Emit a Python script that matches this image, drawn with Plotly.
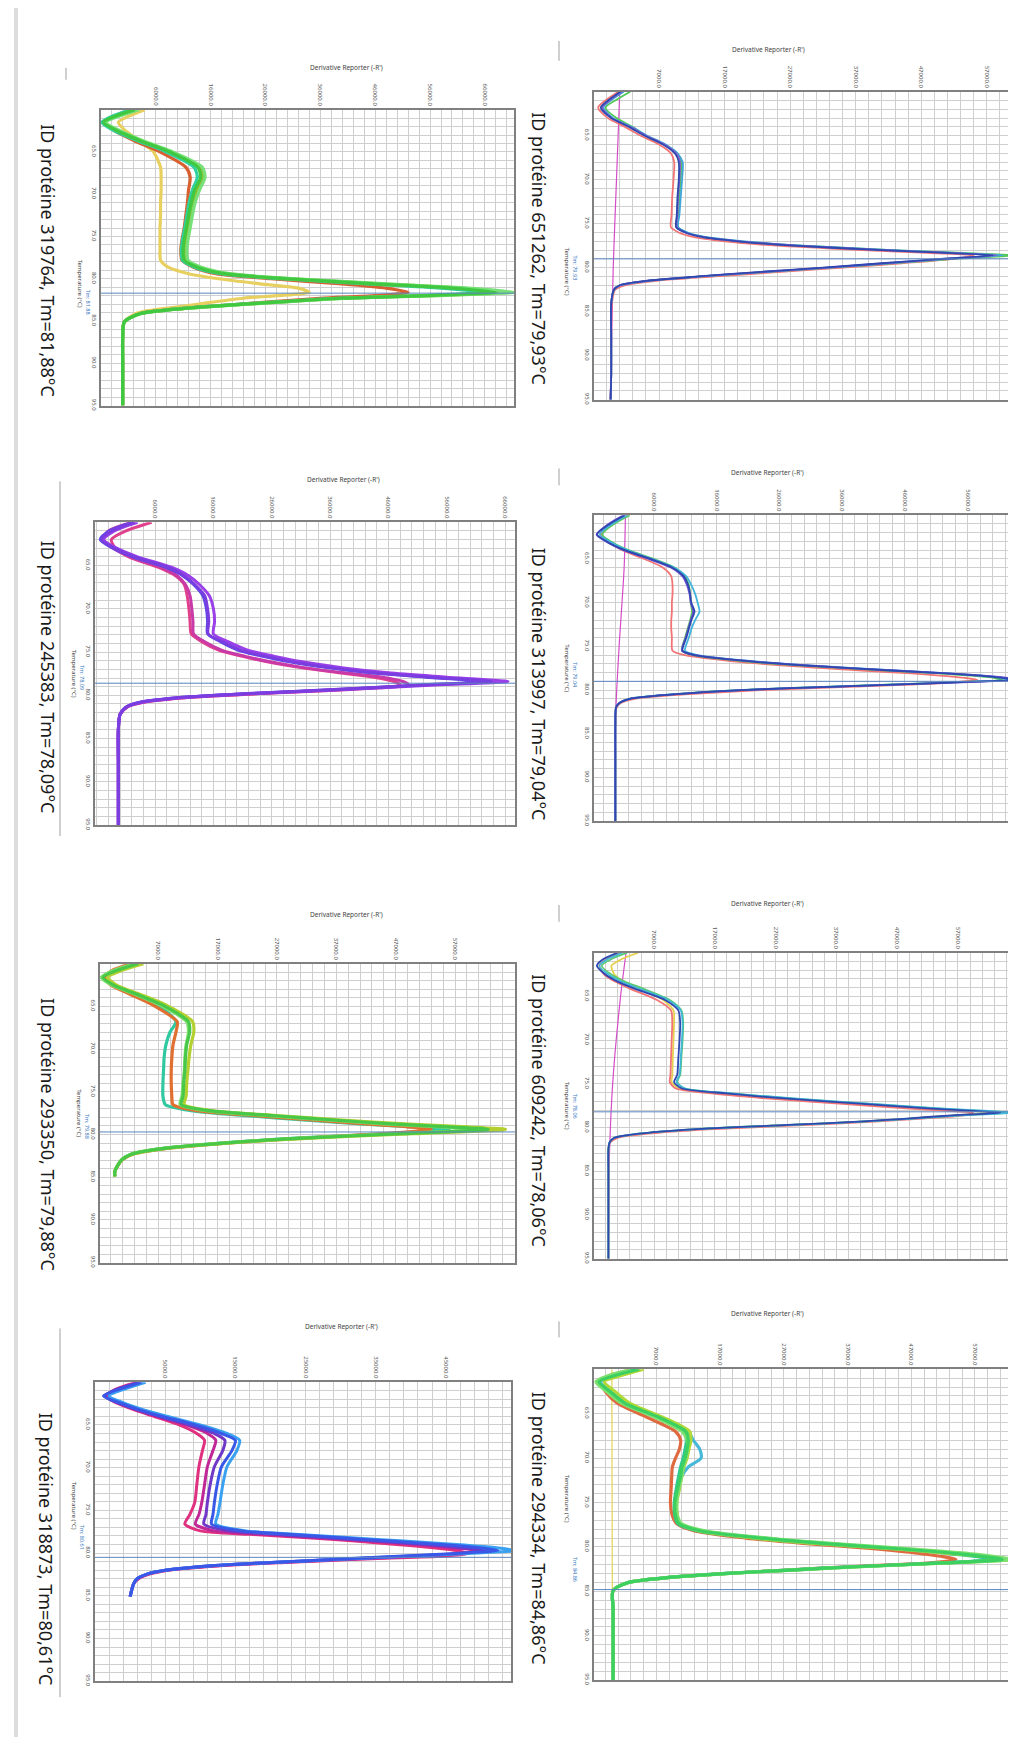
import plotly.graph_objects as go

W, H = 1016, 1737

# ---------------- values ----------------
TITLES = ["ID protéine 651262, Tm=79,93°C", "ID protéine 313997, Tm=79,04°C",
          "ID protéine 609242, Tm=78,06°C", "ID protéine 294334, Tm=84,86°C",
          "ID protéine 319764, Tm=81,88°C", "ID protéine 245383, Tm=78,09°C",
          "ID protéine 293350, Tm=79,88°C", "ID protéine 318873, Tm=80,61°C"]
TM_TEXT = ["Tm: 79.93", "Tm: 79.04", "Tm: 78.06", "Tm: 84.86",
           "Tm: 81.88", "Tm: 78.09", "Tm: 79.88", "Tm: 80.61"]
TM_LINE = [79.0, 79.0, 78.2, 84.8, 81.7, 78.6, 79.7, 80.5]
T_TICKS = [65, 70, 75, 80, 85, 90, 95]
X_TICKS = [[7000, 17000, 27000, 37000, 47000, 57000],
           [6000, 16000, 26000, 36000, 46000, 56000],
           [7000, 17000, 27000, 37000, 47000, 57000],
           [7000, 17000, 27000, 37000, 47000, 57000],
           [6000, 16000, 26000, 36000, 46000, 56000, 66000],
           [6000, 16000, 26000, 36000, 46000, 56000, 66000],
           [7000, 17000, 27000, 37000, 47000, 57000],
           [5000, 15000, 25000, 35000, 45000]]
X_RANGES = [[-2930, 61900], [-3500, 64000], [-2870, 66870], [-2800, 63750],
            [-3950, 71300], [-4300, 67700], [-2800, 67100], [-5000, 54250]]

# panel 1 - 651262
P1_T = [60, 61, 61.8, 63, 64, 65, 66, 67, 68, 70, 72, 74, 75.4, 76, 76.5, 77, 77.5, 78, 78.3, 78.6,
        79, 79.5, 80, 80.5, 81, 81.5, 82, 82.5, 84, 88, 92, 95]
P1_BLUE = [1100, -800, -1900, -300, 2400, 4800, 7600, 9400, 10000, 10000, 9800, 9700, 9600, 11000, 13500,
           19000, 27500, 41000, 50000, 58000, 50000, 41000, 32000, 22000, 13000, 5000, 1000, 100, -300, -300, -300, -400]
P1_CYAN = [1600, -400, -1500, 0, 2800, 5200, 8000, 9800, 10600, 10500, 10300, 10100, 9900, 11400, 14000,
           20000, 29000, 42500, 51500, 59500, 51000, 42000, 33000, 23000, 13500, 5300, 1100, 100, -300, -300, -300, -400]
P1_GREEN = [2600, 300, -1200, 500, 3000, 5000, 7800, 9800, 10400, 10300, 10100, 10000, 9900, 11200, 13800,
            19500, 28500, 42500, 52500, 61500, 52000, 42500, 33000, 23000, 13500, 5200, 1000, 100, -300, -300, -300, -400]
P1_RED = [800, -1200, -2300, -800, 1800, 4200, 7000, 8800, 9300, 9200, 9000, 8900, 8800, 10000, 12200,
          17000, 25000, 38000, 47000, 55000, 52000, 44000, 35000, 25000, 15500, 6500, 1800, 300, -200, -300, -300, -400]
P1_PURPLE = [1300, -600, -1700, -200, 2600, 5000, 7800, 9600, 10200, 10100, 9900, 9800, 9700, 11000, 13600,
             19200, 28000, 41500, 50500, 58500, 50500, 41500, 32500, 22500, 13200, 5100, 1000, 100, -300, -300, -300, -400]
P1_NTC_T = [60, 70, 80, 95]
P1_NTC = [1000, 500, 0, -450]

# panel 2 - 313997
P2_T = [60, 61, 62.2, 63, 64, 65, 66, 67, 68, 69, 70, 71, 72, 73, 74, 75.5, 76, 76.8, 77.5, 78.1, 78.5, 78.8,
        79.2, 79.6, 80, 80.5, 81, 81.5, 82, 84, 88, 95]
P2_BLUE = [1400, -1000, -3000, -1500, 1400, 5500, 9000, 10800, 11500, 11800, 12000, 12500, 12000, 11600, 11200, 10600,
           12500, 22600, 37000, 52400, 60000, 63500, 51000, 35000, 20000, 9000, 2200, 500, 0, -100, -100, -100]
P2_CYAN = [1800, -600, -2600, -1000, 1800, 5800, 9300, 11200, 12000, 12600, 13000, 13300, 12600, 12000, 11600, 11000,
           13000, 23500, 38000, 53000, 60500, 62500, 50500, 34500, 19500, 8800, 2100, 500, 0, -100, -100, -100]
P2_GREEN = [2200, -300, -2200, -800, 2000, 6000, 9400, 11000, 11600, 11800, 11900, 12100, 11800, 11400, 11000, 10500,
            12300, 22000, 36500, 51500, 59000, 61500, 50000, 34000, 19500, 8800, 2100, 500, 0, -100, -100, -100]
P2_RED = [2000, -500, -2400, -1200, 1000, 4500, 7500, 8800, 9000, 9000, 8900, 8900, 8800, 8800, 8900, 9000,
          11000, 20000, 33000, 47000, 54000, 57500, 52000, 38000, 23000, 11000, 3000, 700, 100, -100, -100, -100]
P2_PURPLE = [1200, -1200, -3100, -1600, 1200, 5200, 8800, 10600, 11300, 11700, 11900, 12300, 11900, 11500, 11100, 10500,
             12600, 23000, 37500, 53000, 61000, 64500, 51500, 35500, 20200, 9100, 2200, 500, 0, -100, -100, -100]
P2_NTC_T = [60, 66, 75, 82, 95]
P2_NTC = [1500, 1300, 500, 0, -100]

# panel 3 - 609242
P3_T = [60, 60.8, 61.5, 62.5, 63.3, 64.1, 65.4, 66.6, 68, 70, 72, 74, 74.8, 75.5, 76.1, 76.7, 77.3, 77.8, 78.1, 78.3,
        78.6, 79, 79.3, 79.7, 80.2, 80.7, 81.2, 81.7, 82.5, 85, 90, 95]
P3_BLUE = [1000, -1500, -2400, -1000, 1000, 3800, 8800, 11000, 11300, 11200, 11000, 10800, 10300, 11500, 18900, 29000,
           41400, 52000, 59500, 64000, 56000, 48000, 41400, 29000, 13300, 4500, 400, -300, -500, -500, -500, -500]
P3_CYAN = [1800, -800, -2000, -500, 1600, 4500, 9300, 11400, 11700, 11600, 11400, 11200, 10700, 12000, 19800, 30500,
           43000, 54000, 62000, 66500, 57500, 49000, 42000, 29500, 13500, 4600, 400, -300, -500, -500, -500, -500]
P3_GREEN = [2600, -200, -1600, 0, 2200, 5200, 9600, 11500, 11800, 11700, 11500, 11300, 10800, 12000, 19500, 30000,
            42500, 53500, 61000, 65500, 57000, 48500, 41800, 29200, 13400, 4500, 400, -300, -500, -500, -500, -500]
P3_RED = [1500, -1000, -2000, -1200, 600, 3000, 7500, 9800, 10000, 9900, 9800, 9700, 9600, 10500, 16500, 26000,
          38000, 48500, 55500, 59500, 58000, 50500, 44000, 32500, 16000, 6000, 900, -200, -500, -500, -500, -500]
P3_YELLOW = [4400, 1500, 0, 500, 2000, 4500, 8500, 10200, 10300, 10200, 10100, 10000, 9900, 11000, 17500, 27500,
             40000, 51000, 58500, 63000, 56500, 48500, 41800, 29500, 13800, 4700, 500, -300, -500, -500, -500, -500]
P3_NTC_T = [60, 65, 75, 85, 95]
P3_NTC = [2400, 1500, 200, -400, -500]

# panel 4 - 294334
P4_T = [60, 60.7, 61.4, 62.5, 63.8, 65.4, 67, 68, 69, 70, 71, 72, 73.5, 75, 76.5, 77.4, 78.2, 79, 79.6, 80.2, 80.8,
        81.4, 81.8, 82.2, 82.6, 83, 83.5, 84, 84.9, 87, 91, 95]
P4_GREEN = [4300, 500, -2000, -300, 2000, 7400, 11600, 12000, 11800, 11500, 11000, 10800, 10300, 9900, 10000, 10600,
            14000, 23400, 33000, 45000, 55000, 61300, 52000, 39000, 28000, 17600, 8000, 2600, 200, 200, 200, 200]
P4_LIGHT = [3000, -500, -2500, -800, 1500, 6800, 11000, 11800, 11900, 11600, 11200, 11000, 10500, 10200, 10300, 11000,
            14800, 24500, 34500, 47000, 57000, 63000, 53000, 40000, 28500, 18000, 8200, 2700, 200, 200, 200, 200]
P4_YG = [5000, 1500, -1200, 500, 2800, 8000, 12200, 12400, 12100, 11800, 11300, 11000, 10600, 10200, 10300, 10800,
         13800, 22500, 32000, 44000, 54500, 62500, 52500, 39500, 28200, 17800, 8100, 2600, 200, 200, 200, 200]
P4_TEAL = [3800, 0, -2300, -600, 1700, 7000, 11300, 11700, 11500, 11200, 10800, 10500, 10100, 9800, 9900, 10400,
           13500, 22500, 32000, 44000, 53500, 60000, 51500, 38500, 27500, 17200, 7800, 2500, 200, 200, 200, 200]
P4_RED = [3500, -300, -1800, -1000, 800, 5500, 10000, 10800, 10600, 10000, 9500, 9400, 9300, 9200, 9500, 10200,
          13000, 21000, 30000, 41000, 49000, 54000, 50000, 38000, 27500, 17500, 8000, 2600, 200, 200, 200, 200]
P4_CYAN = [4000, 200, -1800, -200, 2200, 7600, 12000, 12800, 13800, 14000, 12000, 11000, 10500, 10000, 10100, 10700,
           14200, 23800, 33500, 45500, 55500, 61500, 52000, 39000, 28000, 17600, 8000, 2600, 200, 200, 200, 200]
P4_NTC_T = [60, 95]
P4_NTC = [0, 100]

# panel 5 - 319764
P5_T = [60, 60.8, 61.5, 62.5, 63.7, 64.9, 66.8, 68, 69.5, 71, 72.5, 74, 75.4, 76.5, 77.8, 78.6, 79.4, 80, 80.6, 81.1,
        81.6, 82, 82.3, 82.8, 83.3, 83.7, 84.1, 85.1, 87, 90, 95]
P5_GREEN = [2200, -1500, -3500, -1000, 3300, 8200, 13700, 14200, 13100, 12500, 12000, 11600, 11200, 11000, 11200,
            13500, 18500, 30000, 45800, 60000, 68000, 55000, 39800, 27000, 15500, 8000, 3300, 300, 0, 0, 0]
P5_LIGHT = [3000, -800, -3000, -500, 3800, 8800, 14500, 15000, 14000, 13200, 12700, 12300, 11900, 11700, 11900,
            14200, 19500, 31500, 48000, 63000, 71500, 57000, 41000, 27800, 16000, 8200, 3400, 300, 0, 0, 0]
P5_TEAL = [1500, -2000, -3800, -1500, 2800, 7600, 13000, 13600, 12700, 12100, 11700, 11300, 10900, 10700, 10900,
           13000, 17800, 29000, 44500, 58000, 65500, 53500, 38800, 26300, 15000, 7800, 3200, 300, 0, 0, 0]
P5_ORANGE = [1800, -1800, -3200, -1500, 2200, 6500, 11500, 12300, 12000, 11800, 11500, 11200, 10800, 10600, 10800,
             12800, 17000, 27000, 40000, 48000, 52000, 46000, 36000, 25500, 15000, 7800, 3200, 300, 0, 0, 0]
P5_OLIVE = [2600, -1200, -3300, -800, 3500, 8500, 14000, 14600, 13500, 12800, 12300, 11900, 11500, 11300, 11500,
            13800, 19000, 30800, 47000, 61500, 70000, 56000, 40500, 27500, 15800, 8100, 3300, 300, 0, 0, 0]
P5_YELLOW = [4000, 1000, -800, 500, 3000, 5500, 6900, 7000, 7000, 6900, 6900, 6800, 6800, 6800, 6900,
             8200, 12000, 17500, 25000, 32000, 34000, 28000, 22000, 16000, 10500, 5500, 2500, 300, 0, 0, 0]

# panel 6 - 245383
P6_T = [60, 61, 62, 63, 64, 65.2, 66.2, 67.2, 68.5, 70, 71.5, 72.9, 73.8, 74.8, 75.5, 76.1, 76.8, 77.4, 77.9, 78.4,
        78.8, 79.3, 79.8, 80.3, 80.8, 81.3, 82.2, 84, 88, 95]
P6_PURPLE = [2500, -1500, -3200, -1000, 2500, 8200, 11000, 12800, 14500, 15000, 15200, 15100, 17500, 20700, 25000,
             29300, 36000, 43600, 53000, 63600, 52000, 38000, 22000, 9500, 3500, 1200, 0, -300, -300, -300]
P6_VIOLET = [3000, -1000, -2800, -600, 3000, 8800, 11800, 13600, 15300, 16000, 16200, 16000, 18500, 22000, 26500,
             31000, 38000, 46000, 56000, 66500, 54000, 39000, 22500, 9700, 3600, 1200, 0, -300, -300, -300]
P6_BLUEV = [2200, -1800, -3400, -1200, 2200, 7800, 10800, 12600, 14200, 14800, 15000, 15000, 17200, 20300, 24500,
            28800, 35500, 43000, 52500, 62500, 51500, 37500, 21800, 9300, 3400, 1200, 0, -300, -300, -300]
P6_MAGENTA = [2000, -2000, -3000, -1200, 1800, 7000, 9800, 11200, 12000, 12300, 12500, 12600, 14500, 17500, 21500,
              25500, 31500, 38500, 45000, 48500, 49500, 40000, 24000, 10500, 4000, 1300, 0, -300, -300, -300]
P6_PINK = [5400, 1000, -1500, -800, 1500, 6500, 9500, 11000, 11500, 11800, 12000, 12200, 14000, 17000, 21000,
           25000, 31000, 37500, 43500, 47000, 48000, 39000, 23500, 10300, 3900, 1300, 0, -300, -300, -300]

# panel 7 - 293350
P7_T = [60, 60.8, 61.6, 62.5, 63.5, 64.8, 66.8, 68, 69.5, 71, 72.5, 74, 75.5, 76.5, 77.2, 77.8, 78.3, 78.75, 79.1,
        79.4, 79.9, 80.4, 81, 81.7, 82.3, 83, 84.3, 84.9]
P7_GREEN = [3600, 0, -2300, -500, 3100, 7600, 12100, 12300, 11800, 11600, 11500, 11300, 11200, 10900, 15500, 26600,
            36500, 46300, 56000, 62600, 48000, 32300, 18000, 7000, 2500, 800, -300, -300]
P7_YG = [4500, 800, -1500, 0, 3600, 8200, 12800, 13000, 12500, 12200, 12000, 11800, 11700, 11400, 15800, 27500,
         38000, 48500, 59000, 65500, 50000, 33500, 18500, 7200, 2600, 800, -300, -300]
P7_LIGHT = [3000, -500, -2600, -800, 2800, 7200, 11800, 12100, 11700, 11500, 11400, 11200, 11000, 10700, 15000, 25500,
            35500, 45000, 54500, 61000, 47000, 31800, 17800, 6900, 2400, 800, -300, -300]
P7_ORANGE = [2500, -800, -2000, -1000, 2000, 6000, 10200, 10000, 9500, 9300, 9200, 9200, 9300, 9500, 13500, 23500,
             33000, 42000, 49000, 53000, 45000, 32000, 18500, 7500, 2700, 900, -300, -300]
P7_TEAL = [3200, -300, -2200, -600, 2600, 6800, 10000, 9000, 8300, 8000, 7900, 7800, 7800, 8200, 12500, 22000,
           31500, 41000, 50000, 56000, 45500, 31000, 17500, 6800, 2400, 800, -300, -300]

# panel 8 - 318873
P8_T = [60, 60.8, 61.6, 62.4, 63.3, 64.1, 65, 66, 66.8, 68, 69.9, 72, 74.1, 75.5, 76.6, 77.4, 77.8, 78.2, 78.6, 79,
        79.4, 79.7, 80.1, 80.7, 81.1, 81.5, 82, 82.4, 83, 83.6, 85.1]
P8_BLUE = [1600, -1500, -3800, -1500, 1600, 5000, 9300, 13000, 15000, 14500, 13000, 12400, 12000, 11800, 11600,
           15800, 22500, 30000, 37000, 44300, 50000, 52400, 45000, 30000, 20000, 11100, 5000, 2600, 1000, 500, 0]
P8_SKY = [2200, -800, -3000, -1000, 2200, 5800, 10000, 13800, 15600, 15200, 13800, 13200, 12800, 12500, 12200,
          16500, 23500, 31500, 39000, 46500, 52500, 55000, 46500, 30500, 20200, 11200, 5000, 2600, 1000, 500, 0]
P8_PURPLE = [1200, -1800, -3600, -1800, 1200, 4500, 8500, 12000, 13500, 13200, 12000, 11400, 11000, 10800, 10500,
             14000, 20500, 28000, 35000, 42000, 47500, 50500, 46000, 30500, 20200, 11200, 5000, 2600, 1000, 500, 0]
P8_PINK = [1000, -2000, -3500, -2000, 800, 3800, 7000, 9500, 10600, 10300, 9800, 9500, 9200, 8500, 7800,
           10000, 17000, 25300, 32000, 38000, 43500, 46500, 48100, 33000, 22000, 12500, 5500, 3000, 1200, 500, 0]
P8_MAGENTA = [1300, -1700, -3400, -1700, 1200, 4300, 8000, 11000, 12200, 11800, 11000, 10600, 10200, 9800, 9300,
              12000, 19000, 27000, 34500, 41000, 46000, 49500, 46500, 31500, 21000, 11800, 5200, 2800, 1100, 500, 0]

# ---------------- layout of the page (pixels) ----------------
BOX = [(586, 1011, 84, 393), (586, 1010, 509, 816), (586, 1010, 948, 1255), (586, 1010, 1366, 1678),
       (93, 506, 102, 399), (87, 507, 516, 820), (92, 507, 959, 1259), (87, 503, 1379, 1679)]
TITLE_POS = [(531, 241), (531, 678), (531, 1106), (531, 1525),
             (40, 253), (40, 671), (40, 1130), (38, 1546)]

# curves of each panel: (temps, values, colour, width) or (values, colour)
PANELS = [
    [(P1_NTC_T, P1_NTC, "#d44cc8", 1.2), (P1_RED, "#f27474"), (P1_GREEN, "#55c85a"), (P1_CYAN, "#3fa6dc"),
     (P1_PURPLE, "#8a5cd0"), (P1_BLUE, "#2f48b0")],
    [(P2_NTC_T, P2_NTC, "#d44cc8", 1.2), (P2_RED, "#f27474"), (P2_GREEN, "#5cc95c"), (P2_CYAN, "#40b4dc"),
     (P2_PURPLE, "#7050d0"), (P2_BLUE, "#2f48b0")],
    [(P3_NTC_T, P3_NTC, "#d44cc8", 1.2), (P3_YELLOW, "#e6d050"), (P3_RED, "#f27474"), (P3_GREEN, "#5cc970"),
     (P3_CYAN, "#40b8d8"), (P3_BLUE, "#2f48b0")],
    [(P4_NTC_T, P4_NTC, "#e2d456", 1.2), (P4_RED, "#e06a40"), (P4_CYAN, "#48b8d8"), (P4_TEAL, "#30c890"),
     (P4_YG, "#b0d838"), (P4_LIGHT, "#7ee070"), (P4_GREEN, "#3cd060")],
    [(P5_YELLOW, "#e8d060"), (P5_ORANGE, "#d86030"), (P5_TEAL, "#30d0a0"), (P5_OLIVE, "#90c030"),
     (P5_LIGHT, "#78e078"), (P5_GREEN, "#40c840")],
    [(P6_PINK, "#e0408c"), (P6_MAGENTA, "#c83aa8"), (P6_BLUEV, "#5a48e8"), (P6_VIOLET, "#9a40e8"),
     (P6_PURPLE, "#7a3ee0")],
    [(P7_TEAL, "#30c8a0"), (P7_ORANGE, "#e07030"), (P7_LIGHT, "#80e070"), (P7_YG, "#b4d030"),
     (P7_GREEN, "#48c848")],
    [(P8_PINK, "#e03080"), (P8_MAGENTA, "#c02898"), (P8_PURPLE, "#7038c8"), (P8_SKY, "#3aa0f0"),
     (P8_BLUE, "#3a58e8")],
]
TEMPS = [P1_T, P2_T, P3_T, P4_T, P5_T, P6_T, P7_T, P8_T]
WIDTHS = [1.8, 1.8, 1.8, 3.2, 3.2, 3.0, 3.2, 3.0]

GRID = "#cfcfcf"


def px(x):
    return x / W


def py(y):
    return 1 - y / H


fig = go.Figure()
annotations = []
shapes = []

for i in range(8):
    n = "" if i == 0 else str(i + 1)
    xa, ya = "x" + n, "y" + n
    for item in PANELS[i]:
        if len(item) == 4:
            temps, vals, color, w = item
        else:
            vals, color = item
            temps, w = TEMPS[i], WIDTHS[i]
        fig.add_trace(go.Scatter(x=vals, y=temps, mode="lines", xaxis=xa, yaxis=ya,
                                 line=dict(color=color, width=w, shape="spline", smoothing=0.7),
                                 hoverinfo="skip", showlegend=False))

    x0, x1, y0, y1 = BOX[i]
    fig.update_layout({
        "xaxis" + n: dict(domain=[px(x0), px(x1)], anchor=ya, side="top", range=X_RANGES[i],
                          tickmode="array", tickvals=X_TICKS[i], tickformat=".1f", tickangle=90,
                          tickfont=dict(size=6, color="#555"), ticks="",
                          showgrid=True, gridcolor=GRID, gridwidth=0.8, zeroline=False,
                          minor=dict(tickmode="linear", tick0=X_TICKS[i][0], dtick=2000,
                                     showgrid=True, gridcolor=GRID, gridwidth=0.8),
                          showline=True, mirror=True, linecolor="#808080", linewidth=1.5),
        "yaxis" + n: dict(domain=[py(y1), py(y0)], anchor=xa, range=[95, 60],
                          tickmode="array", tickvals=T_TICKS, tickformat=".1f", tickangle=90,
                          tickfont=dict(size=6, color="#555"), ticks="",
                          showgrid=True, gridcolor=GRID, gridwidth=0.8, zeroline=False,
                          minor=dict(tickmode="linear", tick0=60, dtick=1,
                                     showgrid=True, gridcolor=GRID, gridwidth=0.8),
                          showline=True, mirror=True, linecolor="#808080", linewidth=1.5),
    })

    # Tm line
    shapes.append(dict(type="line", xref=xa + " domain", yref=ya, x0=0, x1=1,
                       y0=TM_LINE[i], y1=TM_LINE[i], line=dict(color="#5a86c0", width=1)))

    # axis titles and Tm label
    annotations.append(dict(x=px((x0 + x1) / 2), y=py(y0 - 49), xref="paper", yref="paper",
                            text="Derivative Reporter (-R')", showarrow=False,
                            font=dict(size=6.5, color="#444")))
    annotations.append(dict(x=px(x0 - 27), y=py((y0 + y1) / 2), xref="paper", yref="paper",
                            text="Temperature (°C)", textangle=90, showarrow=False,
                            font=dict(size=6, color="#444")))
    tm_py = y0 + (TM_LINE[i] - 60) / 35 * (y1 - y0)
    annotations.append(dict(x=px(x0 - 19), y=py(tm_py - 6), xref="paper", yref="paper",
                            text=TM_TEXT[i], textangle=90, showarrow=False,
                            font=dict(size=5.5, color="#3a78c0")))

    # caption
    tx, ty = TITLE_POS[i]
    annotations.append(dict(x=px(tx), y=py(ty), xref="paper", yref="paper", text=TITLES[i],
                            textangle=90, showarrow=False, xanchor="center", yanchor="middle",
                            font=dict(size=18, color="#1a1a1a", family="Noto Sans")))

# page border and small marks of the scan
shapes.append(dict(type="rect", xref="paper", yref="paper", x0=px(6), x1=px(10), y0=0, y1=1,
                   fillcolor="#dcdcdc", line=dict(width=0)))
for (mx, ma, mb) in [(551, 33, 53), (551, 462, 479), (551, 900, 917), (551, 1318, 1334),
                     (58, 60, 72), (52, 475, 831), (52, 1325, 1695)]:
    shapes.append(dict(type="line", xref="paper", yref="paper", x0=px(mx), x1=px(mx),
                       y0=py(ma), y1=py(mb), line=dict(color="#a0a0a0", width=1)))

fig.update_layout(width=W, height=H, margin=dict(l=0, r=0, t=0, b=0),
                  paper_bgcolor="white", plot_bgcolor="white",
                  font=dict(family="Noto Sans"), showlegend=False,
                  annotations=annotations, shapes=shapes)

fig.write_html("out.html")
